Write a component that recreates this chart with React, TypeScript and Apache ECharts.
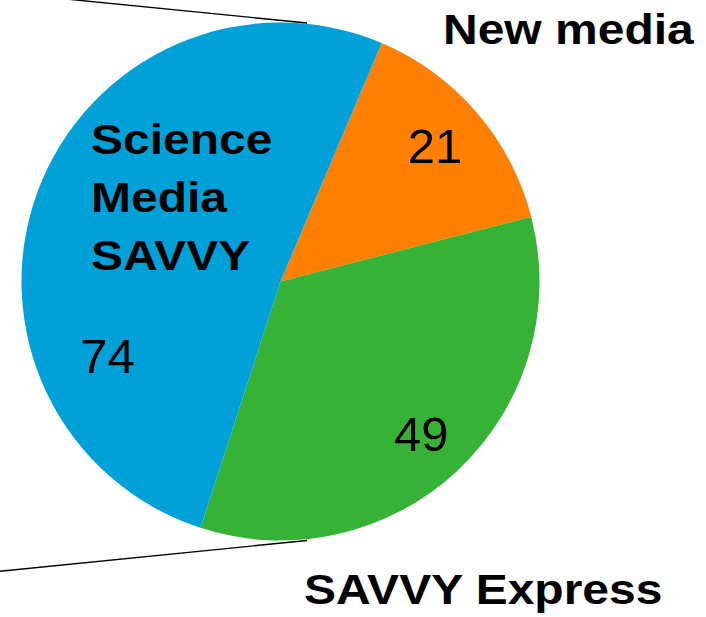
import React, { useEffect, useRef } from "react";
import * as echarts from "echarts";

// Data
const categories = ["New media", "SAVVY Express", "Science Media SAVVY"];
const values = [21, 49, 74];
const colors = ["#FF7F00", "#36B336", "#00A0D8"];

// label nudges (px) relative to ECharts' inside-label position
const labelNudges: [number, number][] = [
  [54, -49],
  [50, 56],
  [-49, 121],
];

// category title placement (style)
const titlePlacement = [
  { x: 443, y: 29.5, va: "middle", multiline: false },
  { x: 304, y: 589, va: "middle", multiline: false },
  { x: 91, y: 110, va: "top", multiline: true },
];

const FONT = '"Liberation Sans", Arial, sans-serif';

export default function App() {
  const ref = useRef<HTMLDivElement>(null);
  useEffect(() => {
    if (!ref.current) return;
    const chart = echarts.init(ref.current, undefined, { renderer: "svg" });

    const cx = 280.5;
    const cy = 281.5;
    const r = 259;

    const titles = categories.map((name, i) => {
      const p = titlePlacement[i];
      return {
        type: "text",
        x: p.x,
        y: p.y,
        scaleX: 1.13,
        z: 10,
        style: {
          text: p.multiline ? name.split(" ").join("\n") : name,
          x: 0,
          y: 0,
          fill: "#000",
          font: `bold 42.5px ${FONT}`,
          lineHeight: 58,
          textAlign: "left",
          textVerticalAlign: p.va,
        },
      };
    });

    chart.setOption({
      animation: false,
      backgroundColor: "#ffffff",
      color: colors,
      graphic: [
        {
          type: "line",
          z: 5,
          shape: { x1: 307, y1: 23, x2: 66, y2: -1 },
          style: { stroke: "#000", lineWidth: 1.4 },
        },
        {
          type: "line",
          z: 5,
          shape: { x1: 307, y1: 540.5, x2: -2, y2: 571.5 },
          style: { stroke: "#000", lineWidth: 1.4 },
        },
        ...titles,
      ],
      series: [
        {
          type: "pie",
          center: [cx, cy],
          radius: [0, r],
          startAngle: 67,
          clockwise: true,
          avoidLabelOverlap: false,
          silent: true,
          itemStyle: { borderWidth: 0 },
          label: {
            show: true,
            position: "inside",
            formatter: "{c}",
            color: "#000",
            fontSize: 49,
            fontFamily: FONT,
            fontWeight: "normal",
          },
          labelLine: { show: false },
          labelLayout: (params: any) => {
            const n = labelNudges[params.dataIndex] || [0, 0];
            return { dx: n[0], dy: n[1] };
          },
          data: categories.map((name, i) => ({
            name,
            value: values[i],
            itemStyle: { color: colors[i] },
          })),
        },
      ],
    });
    return () => chart.dispose();
  }, []);
  return (
    <div
      ref={ref}
      style={{ position: "fixed", left: 0, top: 0, width: 706, height: 617 }}
    />
  );
}
